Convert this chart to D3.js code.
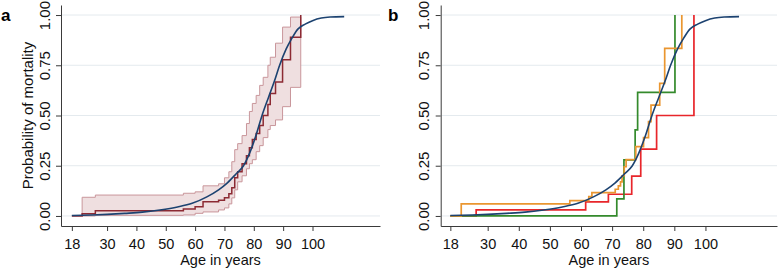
<!DOCTYPE html>
<html>
<head>
<meta charset="utf-8">
<script src="https://cdn.jsdelivr.net/npm/d3@7"></script>
<style>
  html, body { margin: 0; padding: 0; background: #fff; }
  svg { display: block; }
  text { font-family: "Liberation Sans", Arial, sans-serif; }
</style>
</head>
<body>
<svg id="chart" width="778" height="269"></svg>
<script>
// ---------- data ----------
const xTicks = [18, 30, 40, 50, 60, 70, 80, 90, 100];
const yTicks = [0, 0.25, 0.5, 0.75, 1];

// fitted curve (both panels)
const curveAge = [18, 25, 30, 36, 42, 48, 54, 59, 64, 68, 71, 74, 76.5, 78.5, 80.5, 82.8, 85, 87, 88.8, 91, 93, 95, 97.5, 100, 103, 106, 110.8];
const curveProb = [0.002, 0.005, 0.008, 0.013, 0.019, 0.03, 0.045, 0.063, 0.095, 0.13, 0.165, 0.21, 0.25, 0.31, 0.39, 0.5, 0.59, 0.67, 0.75, 0.83, 0.885, 0.93, 0.955, 0.972, 0.985, 0.99, 0.992];

// panel a: Kaplan-Meier estimate with confidence band
const kmAge = [18, 21.5, 26, 56, 60, 62.7, 68, 70, 71.5, 72.5, 73.5, 74.5, 76, 77.5, 78.5, 79.5, 80.8, 82, 83.2, 84.8, 85.6, 87.4, 89.8, 92.5, 96];
const kmProb = [0, 0.011, 0.026, 0.035, 0.046, 0.071, 0.078, 0.09, 0.11, 0.14, 0.19, 0.22, 0.26, 0.30, 0.34, 0.38, 0.41, 0.45, 0.50, 0.555, 0.61, 0.667, 0.778, 0.889, 1.0];
const bandAge = [21.5, 26, 56, 60, 62.7, 68, 70, 71.5, 72.5, 73.5, 74.5, 76, 77.5, 78.5, 79.5, 80.8, 82, 83.2, 84.8, 85.6, 87.4, 89.8, 92.5, 96];
const bandLow = [0, 0.003, 0.005, 0.013, 0.02, 0.03, 0.04, 0.06, 0.09, 0.13, 0.17, 0.2, 0.235, 0.26, 0.28, 0.32, 0.35, 0.39, 0.43, 0.45, 0.478, 0.544, 0.64, 0.64];
const bandHigh = [0.093, 0.104, 0.113, 0.12, 0.15, 0.16, 0.19, 0.22, 0.27, 0.33, 0.36, 0.40, 0.46, 0.52, 0.56, 0.60, 0.65, 0.69, 0.75, 0.79, 0.86, 0.94, 0.99, 0.99];

// panel b: three groups
const redAge = [18, 26.3, 61.5, 68.8, 76.3, 79.2, 84.3, 96.3];
const redProb = [0, 0.03, 0.07, 0.108, 0.198, 0.333, 0.5, 1.0];
const greenAge = [18, 71.5, 73.8, 77.4, 78.2, 90.2];
const greenProb = [0, 0.085, 0.279, 0.428, 0.615, 1.0];
const orangeAge = [18, 21.5, 56.4, 62.5, 63.5, 71, 72, 72.7, 73.2, 73.9, 74.5, 77.6, 80.1, 81.7, 82.5, 85.3, 86.9, 92.4];
const orangeProb = [0, 0.06, 0.076, 0.096, 0.116, 0.133, 0.15, 0.17, 0.2, 0.245, 0.28, 0.345, 0.39, 0.47, 0.552, 0.66, 0.834, 1.0];

// ---------- drawing ----------
const svg = d3.select("#chart");
const zip = (a, b) => a.map((v, i) => [v, b[i]]);

function panel(opt) {
  const g = svg.append("g");
  const x = d3.scaleLinear().domain([opt.xMin, 123]).range([opt.left, opt.right]);
  const y = d3.scaleLinear().domain([-0.05, 1.05]).range([226, 5]);

  // grid
  g.append("g").selectAll("line").data(yTicks).join("line")
    .attr("x1", opt.left + 1).attr("x2", opt.right)
    .attr("y1", d => y(d)).attr("y2", d => y(d))
    .attr("stroke", "#e4eaee").attr("stroke-width", 1);

  // y axis
  const ya = g.append("g").attr("transform", `translate(${opt.left},0)`)
    .call(d3.axisLeft(y).tickValues(yTicks).tickFormat(d3.format(".2f")).tickSize(5).tickSizeOuter(0));
  ya.select(".domain").attr("stroke", "#3a3a3a");
  ya.selectAll(".tick line").attr("stroke", "#3a3a3a");
  ya.selectAll(".tick text")
    .attr("transform", "rotate(-90)")
    .attr("x", 0).attr("y", -11.5).attr("dy", 0)
    .attr("text-anchor", "middle")
    .attr("font-size", 15).attr("fill", "#111")
    .attr("font-family", "Liberation Sans, Arial, sans-serif");

  // x axis
  const xa = g.append("g").attr("transform", "translate(0,226)")
    .call(d3.axisBottom(x).tickValues(xTicks).tickFormat(d3.format("d")).tickSize(5).tickSizeOuter(0));
  xa.select(".domain").attr("stroke", "#3a3a3a");
  xa.selectAll(".tick line").attr("stroke", "#3a3a3a");
  xa.selectAll(".tick text")
    .attr("y", 22.5).attr("dy", 0)
    .attr("font-size", 14.5).attr("fill", "#111")
    .attr("font-family", "Liberation Sans, Arial, sans-serif");

  g.append("text").attr("x", (opt.left + opt.right) / 2).attr("y", 265)
    .attr("text-anchor", "middle").attr("font-size", 14.5).attr("fill", "#111")
    .text("Age in years");

  if (opt.ytitle) {
    g.append("text").attr("transform", `translate(33,${(5 + 226) / 2}) rotate(-90)`)
      .attr("text-anchor", "middle").attr("font-size", 15).attr("fill", "#111")
      .text(opt.ytitle);
  }

  g.append("text").attr("x", opt.labelX).attr("y", 21)
    .attr("font-family", "Liberation Serif, Times New Roman, serif")
    .attr("font-weight", "bold").attr("font-size", 17).attr("fill", "#000")
    .text(opt.label);

  return { g, x, y };
}

const stepLine = (x, y) => d3.line().x(d => x(d[0])).y(d => y(d[1])).curve(d3.curveStepAfter);

// panel a
{
  const { g, x, y } = panel({ left: 61, right: 380, xMin: 14.3, label: "a", labelX: 1, ytitle: "Probability of mortality" });
  const band = bandAge.map((a, i) => [a, bandLow[i], bandHigh[i]]);
  g.append("path").datum(band)
    .attr("d", d3.area().x(d => x(d[0])).y0(d => y(d[1])).y1(d => y(d[2])).curve(d3.curveStepAfter))
    .attr("fill", "#efdfe0").attr("stroke", "#c9969b").attr("stroke-width", 1);
  g.append("path").datum(zip(kmAge, kmProb))
    .attr("d", stepLine(x, y)).attr("fill", "none")
    .attr("stroke", "#8c2a33").attr("stroke-width", 1.5);
  g.append("path").datum(zip(curveAge, curveProb))
    .attr("d", d3.line().x(d => x(d[0])).y(d => y(d[1])).curve(d3.curveMonotoneX))
    .attr("fill", "none").attr("stroke", "#1c4270").attr("stroke-width", 1.6);
}

// panel b
{
  const { g, x, y } = panel({ left: 440.7, right: 777, xMin: 14.9, label: "b", labelX: 388 });
  const series = [
    [redAge, redProb, "#e8262b"],
    [greenAge, greenProb, "#348a2c"],
    [orangeAge, orangeProb, "#ea9630"]
  ];
  series.forEach(([a, p, c]) => {
    g.append("path").datum(zip(a, p))
      .attr("d", stepLine(x, y)).attr("fill", "none")
      .attr("stroke", c).attr("stroke-width", 1.7);
  });
  g.append("path").datum(zip(curveAge, curveProb))
    .attr("d", d3.line().x(d => x(d[0])).y(d => y(d[1])).curve(d3.curveMonotoneX))
    .attr("fill", "none").attr("stroke", "#1c4270").attr("stroke-width", 1.6);
}
</script>
</body>
</html>
